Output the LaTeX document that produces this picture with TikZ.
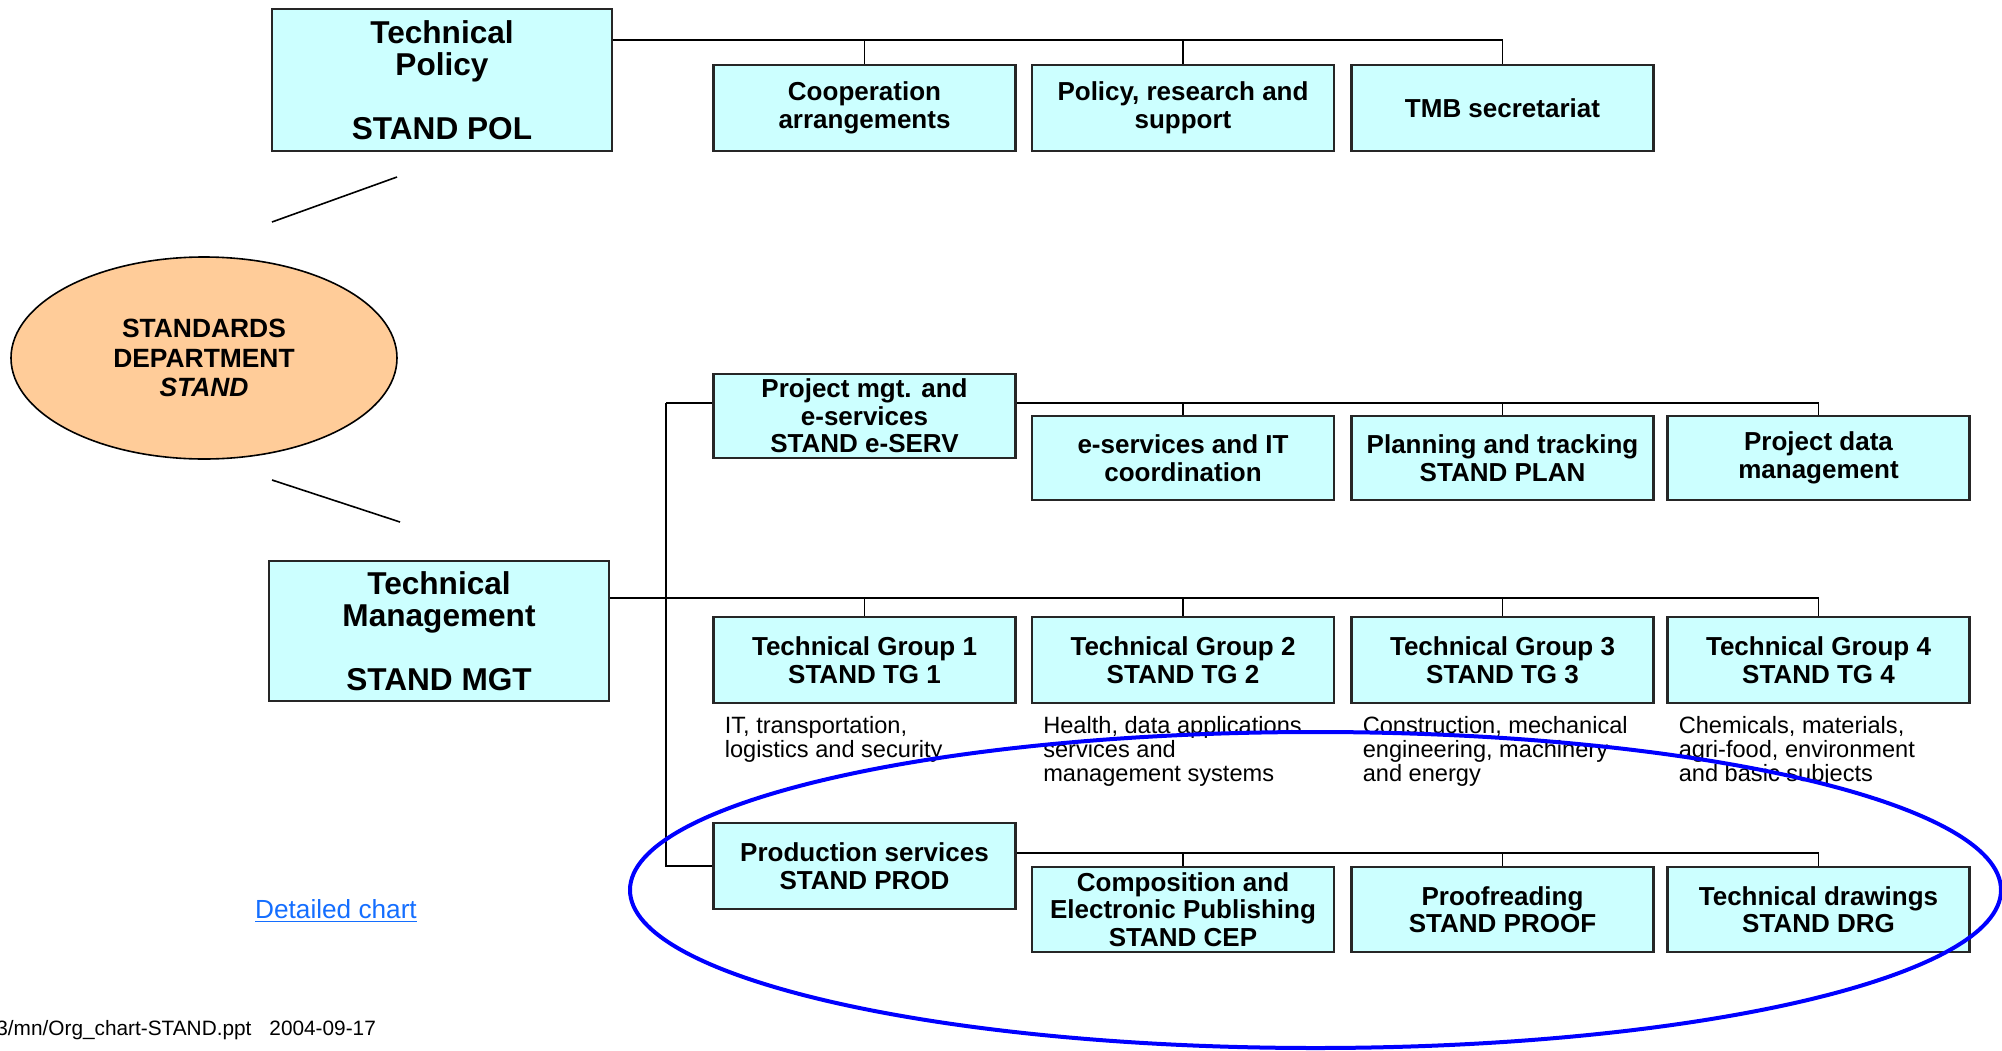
\documentclass[tikz,border=0pt]{standalone}
\usepackage{fontspec}
\setmainfont{Liberation Sans}
\usetikzlibrary{shapes.geometric,positioning}
\definecolor{boxcyan}{RGB}{204,255,255}
\definecolor{deptorange}{RGB}{255,204,153}
\definecolor{linkblue}{RGB}{20,110,255}
\tikzset{
  unit/.style={draw=black!85, line width=1.1pt, fill=boxcyan, align=center,
    font=\bfseries\fontsize{13}{13.8}\selectfont,
    minimum width=151pt, minimum height=43pt, inner sep=2pt},
  headunit/.style={unit, font=\bfseries\fontsize{15.8}{16}\selectfont,
    minimum width=170pt, minimum height=71pt},
  conn/.style={line width=0.8pt},
  descr/.style={align=left, inner sep=0pt, font=\fontsize{11.8}{12}\selectfont},
  ring/.style={draw=blue, line width=2pt}
}

\begin{document}
\begin{tikzpicture}[x=0.5pt,y=-0.5pt]
\useasboundingbox (0,0) rectangle (2002,1050);

% department
\node[ellipse, draw, line width=0.8pt, fill=deptorange, minimum width=193pt, minimum height=101pt,
  align=center, font=\bfseries\fontsize{13.2}{14.7}\selectfont] (stand) at (204,358)
  {STANDARDS\\DEPARTMENT\\\textit{STAND}};

% policy side
\node[headunit] (tp) at (442,80) {Technical\\Policy\\[16pt]STAND POL};
\node[unit] (coop) at (864.5,108) {Cooperation\\arrangements};
\node[unit] (pol) at (1183,108) {Policy, research and\\support};
\node[unit] (tmb) at (1502.5,108) {TMB secretariat};

\coordinate (polbar) at (0,40);
\draw[conn] (tp.east |- polbar) -| (tmb.north);
\foreach \n in {coop,pol}{
\draw[conn] (\n.north) -- (\n.north |- polbar);
}

% management side
\node[headunit, minimum height=70pt] (tm) at (439,631) {Technical\\Management\\[16pt]STAND MGT};

\coordinate (up1) at (272,222);
\coordinate (up2) at (397,177);
\coordinate (lo1) at (272,480);
\coordinate (lo2) at (400,522);
\draw[conn] (up1)--(up2);
\draw[conn] (lo1)--(lo2);

\node[unit, minimum height=42pt] (pm) at (864.5,416) {Project mgt. and\\e-services\\STAND e-SERV};
\node[unit, minimum height=42pt] (esit) at (1183,458) {e-services and IT\\coordination};
\node[unit, minimum height=42pt] (plan) at (1502.5,458) {Planning and tracking\\STAND PLAN};
\node[unit, minimum height=42pt] (pdm) at (1818.5,458) {Project data\\management};

\coordinate (spine) at (666,403);
\draw[conn] (spine) -- (pm.west |- spine);
\draw[conn] (pm.east |- spine) -| (pdm.north);
\foreach \n in {esit,plan}{
\draw[conn] (\n.north) -- (\n.north |- spine);
}

\foreach \i/\x in {1/864.5, 2/1183, 3/1502.5, 4/1818.5}{
\node[unit] (tg\i) at (\x,660) {Technical Group \i\\STAND TG \i};
}
\coordinate (tgbar) at (0,598);
\draw[conn] (tm.east |- tgbar) -| (tg4.north);
\foreach \i in {1,2,3}{
\draw[conn] (tg\i.north) -- (tg\i.north |- tgbar);
}

\node[descr, below right=6pt and 6pt of tg1.south west] {IT, transportation,\\logistics and security};
\node[descr, below right=6pt and 6pt of tg2.south west] {Health, data applications\\services and\\management systems};
\node[descr, below right=6pt and 6pt of tg3.south west] {Construction, mechanical\\engineering, machinery\\and energy};
\node[descr, below right=6pt and 6pt of tg4.south west] {Chemicals, materials,\\agri-food, environment\\and basic subjects};

\node[unit] (prod) at (864.5,866) {Production services\\STAND PROD};
\node[unit, minimum height=42.5pt] (cep) at (1183,909.5) {Composition and\\Electronic Publishing\\STAND CEP};
\node[unit, minimum height=42.5pt] (proof) at (1502.5,909.5) {Proofreading\\STAND PROOF};
\node[unit, minimum height=42.5pt] (drg) at (1818.5,909.5) {Technical drawings\\STAND DRG};

\draw[conn] (spine) |- (prod.west);
\coordinate (prodbar) at (0,853);
\draw[conn] (prod.east |- prodbar) -| (drg.north);
\foreach \n in {cep,proof}{
\draw[conn] (\n.north) -- (\n.north |- prodbar);
}

% highlight
\draw[ring] (1315.5,890) ellipse [x radius=342.75pt, y radius=79pt];

\node[text=linkblue, font=\fontsize{13.1}{14}\selectfont, inner sep=0pt] (link) at (336,911) {\underline{Detailed chart}};
\node[anchor=west, inner sep=0pt, font=\fontsize{10.4}{12}\selectfont] (file) at (-4,1030)
  {3/mn/Org\_chart-STAND.ppt\hspace{9pt}2004-09-17};
\end{tikzpicture}
\end{document}
